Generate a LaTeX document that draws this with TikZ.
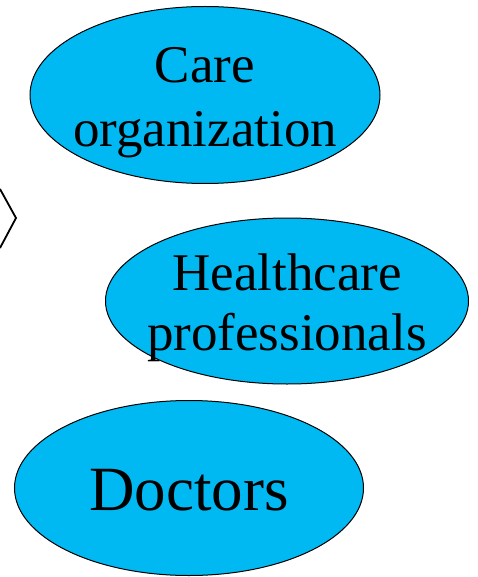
\documentclass[tikz,border=0pt]{standalone}
\usepackage{fontspec}
\setmainfont{Liberation Serif}
\usetikzlibrary{shapes.geometric}
\definecolor{celeste}{RGB}{0,185,242}
\tikzstyle{Burbuja}=[ellipse, draw=black, fill=celeste, line width=1pt, inner sep=0pt]
\tikzstyle{Rotulo}=[align=center, inner sep=0pt]
\tikzstyle{Flecha}=[line width=1.8pt, line join=miter]

\begin{document}
\begin{tikzpicture}[x=1pt, y=-1pt]
			\useasboundingbox (0,0) rectangle (477,577);
			%Nodos
			\node[Burbuja, minimum width=350pt, minimum height=177pt, label={[Rotulo, yshift=-8pt, font=\fontsize{53}{64}\selectfont]center:Care\\organization}]		(care)		at (205,95)		{};
			\node[Burbuja, minimum width=363pt, minimum height=166pt, label={[Rotulo, yshift=-7pt, font=\fontsize{53}{60}\selectfont]center:Healthcare\\professionals}]	(health)	at (287,301)	{};
			\node[Burbuja, minimum width=349pt, minimum height=175pt, label={[Rotulo, yshift=-2pt, font=\fontsize{63}{70}\selectfont]center:Doctors}]				(doctors)	at (189,488)	{};

			%Lineas
			\coordinate (punta_arriba)	at (0,189);
			\coordinate (punta)		at (16,218);
			\coordinate (punta_abajo)	at (0,248);
			\draw[Flecha] (punta_arriba) -- (punta) -- (punta_abajo);

		\end{tikzpicture}
\end{document}
